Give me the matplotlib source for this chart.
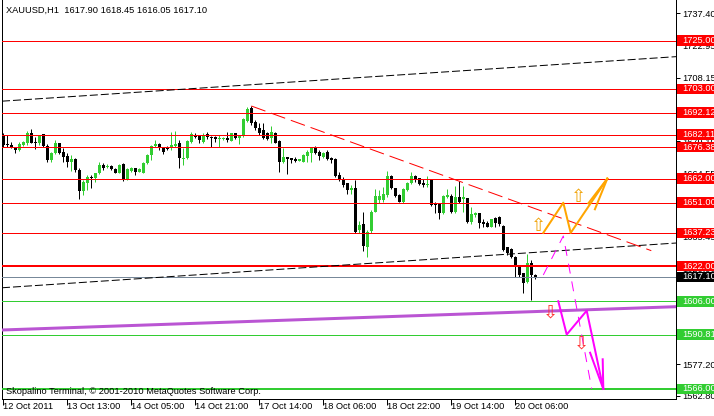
import numpy as np
import matplotlib.pyplot as plt
from matplotlib.patches import Rectangle
from matplotlib.transforms import blended_transform_factory

plt.rcParams['font.family'] = ['Liberation Sans', 'DejaVu Sans']
plt.rcParams['font.size'] = 6.7

# XAUUSD H1 bars, 12 Oct 2011 21:00 .. 20 Oct 11:00
opens = [
    1681.92, 1677.35, 1677.35, 1676.13, 1675.07, 1677.35, 1678.11, 1682.68, 1678.87, 1678.11,
    1682.22, 1676.90, 1670.50, 1673.55, 1678.11, 1674.00, 1672.33, 1669.74, 1670.96, 1665.94,
    1656.50, 1660.15, 1662.74, 1662.13, 1664.41, 1668.22, 1667.15, 1667.76, 1666.39, 1664.72,
    1668.68, 1661.83, 1665.63, 1666.70, 1665.17, 1664.72, 1668.98, 1672.79, 1676.90, 1677.81,
    1675.83, 1676.59, 1675.83, 1677.05, 1678.11, 1670.96, 1671.26, 1678.87, 1681.92, 1681.46,
    1678.87, 1682.22, 1681.16, 1681.16, 1680.09, 1680.09, 1680.70, 1679.33, 1682.68, 1680.40,
    1681.46, 1688.46, 1694.09, 1688.01, 1684.96, 1684.20, 1682.98, 1680.40, 1682.68, 1679.33,
    1669.74, 1671.72, 1671.26, 1670.96, 1670.20, 1669.74, 1672.33, 1673.55, 1676.29, 1674.31,
    1672.02, 1674.31, 1671.26, 1670.96, 1663.65, 1661.83, 1659.85, 1656.80, 1657.56, 1638.54,
    1641.28, 1630.93, 1638.23, 1646.91, 1652.24, 1652.24, 1654.52, 1663.20, 1657.56, 1654.52,
    1651.48, 1656.80, 1659.85, 1663.20, 1662.13, 1660.15, 1659.09, 1661.67, 1650.71, 1650.71,
    1646.15, 1653.76, 1654.06, 1646.91, 1653.45, 1652.85, 1653.00, 1642.34, 1645.39, 1646.15,
    1642.34, 1641.89, 1640.06, 1643.87, 1644.32, 1640.36, 1630.62, 1629.71, 1626.36, 1622.10,
    1618.75, 1614.95, 1623.62, 1617.90]
highs = [
    1682.68, 1681.92, 1678.87, 1676.59, 1678.87, 1679.33, 1683.90, 1684.66, 1681.16, 1681.92,
    1682.22, 1677.81, 1674.16, 1679.63, 1678.42, 1675.83, 1673.55, 1672.79, 1671.26, 1666.70,
    1661.37, 1663.65, 1663.65, 1664.72, 1669.74, 1668.98, 1668.52, 1668.07, 1666.70, 1668.52,
    1668.98, 1666.70, 1667.46, 1667.00, 1666.70, 1669.59, 1673.09, 1677.35, 1679.63, 1678.11,
    1676.13, 1676.90, 1683.14, 1683.90, 1679.63, 1675.83, 1679.48, 1683.14, 1682.98, 1681.92,
    1682.68, 1683.44, 1681.46, 1681.46, 1681.92, 1681.00, 1683.44, 1682.98, 1682.98, 1681.92,
    1689.53, 1694.86, 1695.16, 1688.77, 1687.25, 1687.25, 1683.29, 1686.03, 1683.44, 1679.63,
    1675.83, 1672.02, 1671.57, 1672.02, 1671.11, 1673.09, 1675.07, 1676.59, 1676.90, 1675.07,
    1674.31, 1675.07, 1672.02, 1671.26, 1665.17, 1662.89, 1660.15, 1659.09, 1661.37, 1642.80,
    1646.61, 1638.54, 1647.67, 1657.11, 1656.80, 1658.02, 1665.63, 1663.50, 1657.87, 1654.82,
    1657.56, 1660.46, 1665.17, 1663.65, 1662.44, 1661.67, 1663.20, 1661.98, 1651.48, 1651.02,
    1654.52, 1657.11, 1654.98, 1658.63, 1661.07, 1658.63, 1653.30, 1649.19, 1646.91, 1646.45,
    1643.41, 1642.80, 1643.71, 1644.32, 1644.93, 1640.82, 1630.93, 1630.17, 1626.67, 1622.56,
    1619.06, 1627.43, 1624.84, 1618.45]
lows = [
    1676.59, 1676.59, 1675.83, 1673.85, 1674.76, 1677.05, 1677.35, 1678.11, 1675.37, 1677.35,
    1676.59, 1669.44, 1669.74, 1673.24, 1673.24, 1669.74, 1667.46, 1665.63, 1665.17, 1652.54,
    1654.52, 1656.80, 1657.56, 1660.61, 1664.11, 1665.94, 1666.70, 1666.09, 1664.41, 1664.41,
    1660.91, 1661.37, 1665.17, 1663.65, 1664.87, 1664.41, 1668.68, 1670.50, 1676.59, 1675.07,
    1673.24, 1675.07, 1675.07, 1676.59, 1666.70, 1668.22, 1670.96, 1678.42, 1680.40, 1678.42,
    1678.42, 1679.94, 1676.59, 1678.87, 1676.59, 1679.79, 1678.87, 1679.03, 1680.09, 1677.81,
    1681.16, 1688.01, 1686.48, 1684.20, 1681.92, 1679.94, 1679.63, 1678.11, 1678.11, 1665.17,
    1668.98, 1664.11, 1668.98, 1669.74, 1669.89, 1669.44, 1669.74, 1669.74, 1673.24, 1670.50,
    1671.26, 1670.50, 1669.28, 1662.89, 1661.07, 1658.02, 1654.98, 1654.98, 1637.02, 1637.02,
    1629.10, 1626.36, 1637.02, 1646.91, 1650.71, 1651.48, 1653.76, 1657.26, 1653.76, 1651.17,
    1650.71, 1656.50, 1659.54, 1660.61, 1659.24, 1658.33, 1658.02, 1649.50, 1646.15, 1643.41,
    1645.84, 1653.00, 1646.45, 1646.15, 1650.71, 1646.91, 1641.58, 1641.28, 1644.63, 1639.30,
    1640.06, 1639.76, 1639.76, 1640.06, 1640.36, 1629.10, 1627.12, 1625.60, 1616.92, 1616.92,
    1609.92, 1614.49, 1606.57, 1616.05]
closes = [
    1677.35, 1677.20, 1676.59, 1675.07, 1677.81, 1678.87, 1682.68, 1678.42, 1678.42, 1681.46,
    1676.90, 1670.50, 1673.85, 1678.11, 1673.55, 1672.02, 1669.74, 1670.81, 1665.94, 1656.50,
    1660.61, 1662.59, 1662.44, 1664.41, 1668.22, 1667.00, 1667.76, 1666.39, 1664.72, 1668.22,
    1661.83, 1666.39, 1666.70, 1665.17, 1666.24, 1669.28, 1672.79, 1676.90, 1677.81, 1675.83,
    1674.31, 1675.37, 1677.35, 1677.66, 1671.26, 1671.26, 1679.18, 1682.22, 1680.85, 1679.63,
    1681.92, 1680.85, 1680.55, 1679.94, 1680.70, 1680.70, 1679.63, 1682.68, 1680.40, 1681.46,
    1689.22, 1693.64, 1687.55, 1684.96, 1682.68, 1680.40, 1679.94, 1683.44, 1678.42, 1669.74,
    1672.02, 1670.81, 1670.50, 1670.20, 1670.81, 1672.79, 1674.31, 1676.29, 1673.85, 1672.33,
    1673.85, 1670.81, 1670.50, 1663.20, 1661.37, 1659.09, 1656.80, 1657.87, 1637.78, 1640.82,
    1631.23, 1637.78, 1646.91, 1654.06, 1654.06, 1654.98, 1663.20, 1657.56, 1654.06, 1651.48,
    1657.11, 1660.15, 1663.20, 1661.37, 1659.54, 1659.09, 1659.54, 1649.95, 1649.95, 1646.15,
    1654.06, 1654.52, 1646.91, 1653.45, 1651.48, 1653.45, 1642.34, 1645.84, 1646.15, 1641.89,
    1641.28, 1640.06, 1643.41, 1641.58, 1641.28, 1629.41, 1627.88, 1626.36, 1622.10, 1617.99,
    1614.49, 1623.32, 1617.99, 1617.10]

x_ticks = [0, 16, 32, 48, 64, 80, 96, 112, 128]
x_labels = ['12 Oct 2011', '13 Oct 13:00', '14 Oct 05:00', '14 Oct 21:00', '17 Oct 14:00',
            '18 Oct 06:00', '18 Oct 22:00', '19 Oct 14:00', '20 Oct 06:00']
y_ticks = [1737.40, 1722.95, 1708.15, 1693.70, 1679.10, 1664.55, 1650.00, 1635.45,
           1620.90, 1606.35, 1591.80, 1577.20, 1562.80]

red_levels = [1725.00, 1703.00, 1692.12, 1682.11, 1676.38, 1662.00, 1651.00, 1637.23, 1622.00]
green_levels = [1606.00, 1590.81, 1566.00]
bid = 1617.10

# objects: (bar, price) anchor points
channel_top = ([0, 160], [1697.4, 1716.7])
channel_bottom = ([0, 160], [1612.2, 1631.6])
red_trend = ([62, 162], [1695.16, 1629.1])
purple_line = ([0, 160], [1592.9, 1603.0])
orange_path = ([135, 140, 141.85, 151], [1637.23, 1651.0, 1637.23, 1662.0])
orange_barbs = ([146.25, 147.9], [1650.7, 1648.0])
magenta_dash = ([135, 140, 147.1], [1618.0, 1635.8, 1566.0])
magenta_path = ([138.75, 140.85, 145.85, 150], [1606.0, 1590.81, 1601.7, 1566.0])
magenta_barbs = ([149.85, 146.7], [1579.5, 1582.5])
up_arrows = ([133.9, 143.9], [1640.4, 1653.8])
down_arrows = ([136.7, 144.5], [1600.9, 1586.5])

fig = plt.figure(figsize=(7.14, 4.16), dpi=100)
ax = fig.add_axes([2/714, 17/416, 674/714, 399/416])
xmin, xmax = -0.325, 168.175
ax.set_xlim(xmin, xmax)
ax.set_ylim(1561.37, 1743.56)

px = 0.72  # one pixel in points

# candles
o = np.array(opens); h = np.array(highs); l = np.array(lows); c = np.array(closes)
idx = np.arange(len(o))
up = c > o
cols = np.where(up, '#32CD32', '#000000')
ax.vlines(idx, l, h, colors=cols, lw=px, zorder=2)
body = np.maximum(np.abs(c - o), 0.45)
ax.bar(idx, body, bottom=np.minimum(o, c), width=0.75, color=cols, lw=0, zorder=2)

# horizontal levels
for lv in red_levels:
    ax.axhline(lv, color='#FF0000', lw=2*px if lv == 1622.00 else px, zorder=3)
for lv in green_levels:
    ax.axhline(lv, color='#32CD32', lw=2*px if lv == 1566.00 else px, zorder=3)
ax.axhline(bid, color='#778899', lw=px, zorder=3)

def ray(pts):
    x0, x1 = pts[0]
    y0, y1 = pts[1]
    k = (y1 - y0) / (x1 - x0)
    xs = np.array([xmin, xmax])
    return xs, y0 + k * (xs - x0)

ax.plot(*ray(channel_top), color='black', lw=px, ls=(0, (8, 3)), zorder=4)
ax.plot(*ray(channel_bottom), color='black', lw=px, ls=(0, (8, 3)), zorder=4)
ax.plot(*red_trend, color='#FF0000', lw=px, ls=(0, (15, 6)), zorder=4)
ax.plot(*ray(purple_line), color='#BA55D3', lw=3*px, zorder=4)

ax.plot(*orange_path, color='#FFA500', lw=2*px, zorder=5)
for bx, by in zip(*orange_barbs):
    ax.plot([bx, orange_path[0][-1]], [by, orange_path[1][-1]], color='#FFA500', lw=2*px, zorder=5)
ax.plot(*magenta_dash, color='#FF00FF', lw=px, ls=(0, (10, 8)), zorder=5)
ax.plot(*magenta_path, color='#FF00FF', lw=2*px, zorder=5)
for bx, by in zip(*magenta_barbs):
    ax.plot([bx, magenta_path[0][-1]], [by, magenta_path[1][-1]], color='#FF00FF', lw=2*px, zorder=5)

for ux, uy in zip(*up_arrows):
    ax.text(ux, uy, '\u21e7', family='DejaVu Sans', fontsize=13, color='#F0A000',
            ha='center', va='center', zorder=6)
for dx, dy in zip(*down_arrows):
    ax.text(dx, dy, '\u21e9', family='DejaVu Sans', fontsize=13, color='#FF3030',
            ha='center', va='center', zorder=6)

# axes look
ax.spines['top'].set_visible(False)
for s in ['left', 'right', 'bottom']:
    ax.spines[s].set_linewidth(px)
ax.yaxis.tick_right()
ax.set_yticks(y_ticks)
ax.set_yticklabels(['%.2f' % v for v in y_ticks])
ax.tick_params(axis='y', direction='out', length=3, width=px, pad=1.5)
ax.set_xticks(x_ticks)
ax.set_xticklabels(x_labels)
ax.tick_params(axis='x', direction='out', length=4, width=px, pad=-1.8)
for t in ax.get_xticklabels():
    t.set_ha('left')

# price boxes on the right
tr = blended_transform_factory(ax.transAxes, ax.transData)
box_h = 10.5 / 2.19
boxes = [(lv, '#FF0000') for lv in red_levels] + [(bid, '#000000')] + [(lv, '#32CD32') for lv in green_levels]
for lv, colr in boxes:
    ax.add_patch(Rectangle((1.0022, lv - box_h / 2), 0.06, box_h, transform=tr,
                           facecolor=colr, edgecolor='none', clip_on=False, zorder=7))
    ax.text(1.0089, lv, '%.2f' % lv, transform=tr, color='white', ha='left', va='center',
            clip_on=False, zorder=8)

fig.text(6/714, 1 - 10.5/416, 'XAUUSD,H1  1617.90 1618.45 1616.05 1617.10', ha='left', va='center')
fig.text(6/714, 1 - 391/416, 'Skopalino Terminal, \u00a9 2001-2010 MetaQuotes Software Corp.',
         ha='left', va='center')

fig.savefig('out.png', dpi=100, facecolor='white')
